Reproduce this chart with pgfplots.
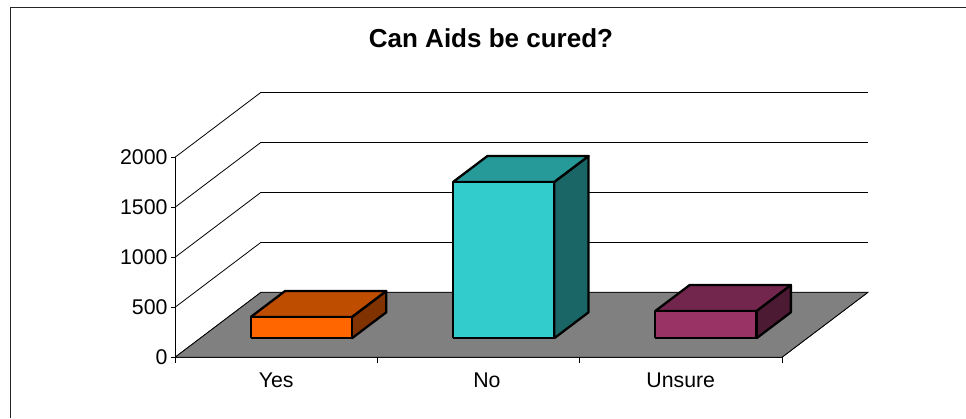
\documentclass[border=0pt]{standalone}
\usepackage{pgfplots}
\pgfplotsset{compat=1.18}
\usepackage{fontspec}
\setmainfont{Liberation Sans}
\definecolor{orF}{HTML}{FF6600}\definecolor{orT}{HTML}{BF4D00}\definecolor{orS}{HTML}{803300}
\definecolor{cyF}{HTML}{33CCCC}\definecolor{cyT}{HTML}{269999}\definecolor{cyS}{HTML}{1A6666}
\definecolor{puF}{HTML}{993366}\definecolor{puT}{HTML}{73264D}\definecolor{puS}{HTML}{4D1A33}
\begin{document}
\begin{tikzpicture}[x=1bp,y=1bp]
\clip (0,0) rectangle (966,418);
\path (0,0) rectangle (966,418);
\draw[line width=1bp,black!85] (10.5,0) -- (10.5,410.5) -- (966,410.5);
\begin{axis}[
  at={(175bp,60.7bp)}, anchor=origin,
  x={(202.3bp,0bp)}, y={(86bp,65bp)}, z={(0bp,0.1bp)},
  xmin=0,xmax=3,ymin=0,ymax=1,zmin=0,zmax=2000,
  axis lines=left, axis line style={-,line width=0.8bp,black},
  clip=false,
  xtick={0.5,1.542,2.5}, xticklabels={Yes,No,Unsure},
  ytick=\empty,
  ztick={0,500,1000,1500,2000},
  zmajorgrids=true,
  major grid style={line width=0.8bp,black},
  major tick length=0pt,
  /pgf/number format/assume math mode=true,
  /pgf/number format/1000 sep={},
  tick label style={font=\fontsize{21.3bp}{24bp}\selectfont},
  xticklabel style={anchor=center,xshift=0bp,yshift=-23bp},
  zticklabel style={anchor=east,xshift=-4bp,yshift=0bp},
  title={Can Aids be cured?},
  title style={at={(axis cs:1.562,0,3133)},anchor=center,font=\fontsize{26bp}{30bp}\selectfont\bfseries},
]
% floor
\addplot3[fill=black!50,draw=black,line width=0.8bp] coordinates {(0,0,0)(3,0,0)(3,1,0)(0,1,0)(0,0,0)};
% category ticks
\addplot3[black,line width=0.8bp] coordinates {(0,0,0)(0,0,-55)};
\addplot3[black,line width=0.8bp] coordinates {(1,0,0)(1,0,-55)};
\addplot3[black,line width=0.8bp] coordinates {(2,0,0)(2,0,-55)};
\addplot3[black,line width=0.8bp] coordinates {(3,0,0)(3,0,-55)};
% value ticks
\addplot3[black,line width=0.8bp] coordinates {(0,0,0)(-0.02,0,0)};
\addplot3[black,line width=0.8bp] coordinates {(0,0,500)(-0.02,0,500)};
\addplot3[black,line width=0.8bp] coordinates {(0,0,1000)(-0.02,0,1000)};
\addplot3[black,line width=0.8bp] coordinates {(0,0,1500)(-0.02,0,1500)};
\addplot3[black,line width=0.8bp] coordinates {(0,0,2000)(-0.02,0,2000)};
% Yes = 213
\addplot3[fill=orS,draw=black,line width=2.3bp,line join=round] coordinates {(0.75,0.292,0)(0.75,0.692,0)(0.75,0.692,213)(0.75,0.292,213)(0.75,0.292,0)};
\addplot3[fill=orT,draw=black,line width=2.3bp,line join=round] coordinates {(0.25,0.292,213)(0.75,0.292,213)(0.75,0.692,213)(0.25,0.692,213)(0.25,0.292,213)};
\addplot3[fill=orF,draw=black,line width=2.3bp,line join=round] coordinates {(0.25,0.292,0)(0.75,0.292,0)(0.75,0.292,213)(0.25,0.292,213)(0.25,0.292,0)};
% No = 1563
\addplot3[fill=cyS,draw=black,line width=2.3bp,line join=round] coordinates {(1.75,0.292,0)(1.75,0.692,0)(1.75,0.692,1563)(1.75,0.292,1563)(1.75,0.292,0)};
\addplot3[fill=cyT,draw=black,line width=2.3bp,line join=round] coordinates {(1.25,0.292,1563)(1.75,0.292,1563)(1.75,0.692,1563)(1.25,0.692,1563)(1.25,0.292,1563)};
\addplot3[fill=cyF,draw=black,line width=2.3bp,line join=round] coordinates {(1.25,0.292,0)(1.75,0.292,0)(1.75,0.292,1563)(1.25,0.292,1563)(1.25,0.292,0)};
% Unsure = 273
\addplot3[fill=puS,draw=black,line width=2.3bp,line join=round] coordinates {(2.75,0.292,0)(2.75,0.692,0)(2.75,0.692,273)(2.75,0.292,273)(2.75,0.292,0)};
\addplot3[fill=puT,draw=black,line width=2.3bp,line join=round] coordinates {(2.25,0.292,273)(2.75,0.292,273)(2.75,0.692,273)(2.25,0.692,273)(2.25,0.292,273)};
\addplot3[fill=puF,draw=black,line width=2.3bp,line join=round] coordinates {(2.25,0.292,0)(2.75,0.292,0)(2.75,0.292,273)(2.25,0.292,273)(2.25,0.292,0)};
\end{axis}
\end{tikzpicture}
\end{document}
